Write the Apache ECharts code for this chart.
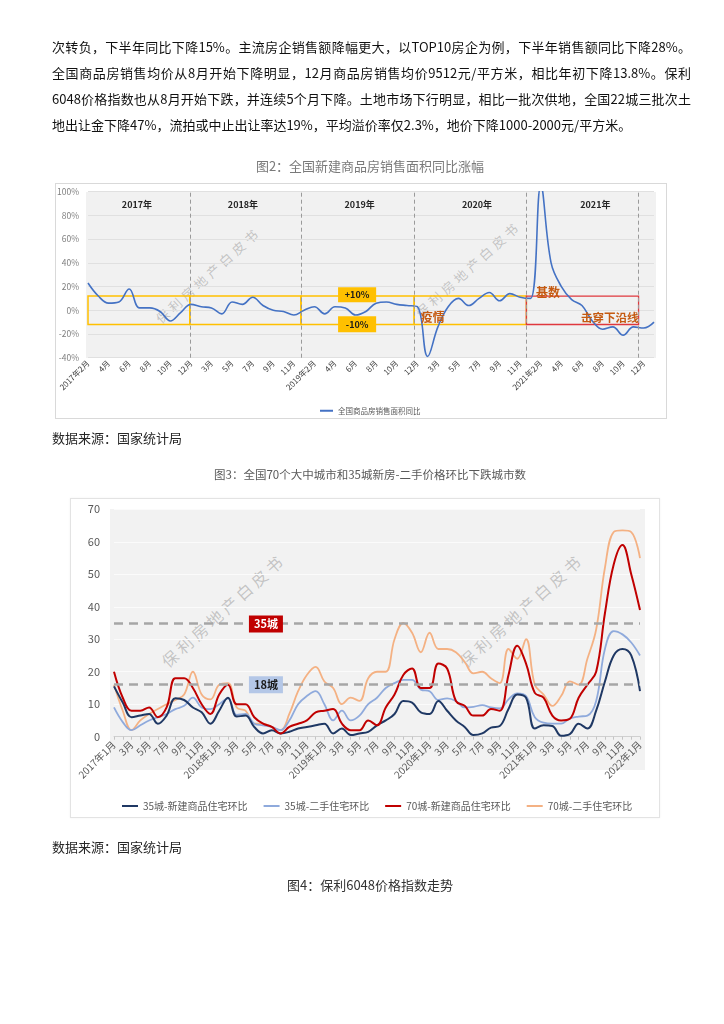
<!DOCTYPE html>
<html>
<head>
<meta charset="utf-8">
<script src="https://cdn.jsdelivr.net/npm/echarts@6/dist/echarts.min.js"></script>
<style>
body{margin:0;background:#fff;}
#page{position:relative;width:724px;height:1024px;overflow:hidden;font-family:"Noto Sans CJK SC","Noto Sans",sans-serif;background:#fff;}
.ln{position:absolute;left:52px;width:639px;height:26px;line-height:26px;font-size:13px;color:#111;white-space:nowrap;z-index:3;}
.j{text-align:justify;text-align-last:justify;}
.cap{position:absolute;left:0;width:740px;text-align:center;z-index:3;white-space:nowrap;}
.src{position:absolute;left:52px;font-size:13px;color:#262626;z-index:3;}
.box{position:absolute;box-sizing:border-box;z-index:0;}
.bg{position:absolute;z-index:0;background:#f1f1f1;}
.wm{position:absolute;z-index:1;color:rgba(130,130,130,0.42);white-space:nowrap;transform:translate(-50%,-50%) rotate(-42deg);}
#chart{position:absolute;left:0;top:0;width:724px;height:1024px;z-index:2;}
</style>
</head>
<body>
<div id="page">
  <div class="ln j" style="top:34px;">次转负，下半年同比下降15%。主流房企销售额降幅更大，以TOP10房企为例，下半年销售额同比下降28%。</div>
  <div class="ln j" style="top:60px;">全国商品房销售均价从8月开始下降明显，12月商品房销售均价9512元/平方米，相比年初下降13.8%。保利</div>
  <div class="ln j" style="top:86px;">6048价格指数也从8月开始下跌，并连续5个月下降。土地市场下行明显，相比一批次供地，全国22城三批次土</div>
  <div class="ln" style="top:112px;">地出让金下降47%，流拍或中止出让率达19%，平均溢价率仅2.3%，地价下降1000-2000元/平方米。</div>

  <div class="cap" style="top:156px;font-size:13px;color:#7a7a7a;">图2：全国新建商品房销售面积同比涨幅</div>

  <div class="box" style="left:55px;top:183px;width:612px;height:236px;border:1px solid #d9d9d9;"></div>
  <div class="bg" style="left:86px;top:191.7px;width:570px;height:166px;"></div>
  <div class="wm" style="left:208px;top:275px;font-size:13px;letter-spacing:4px;">保利房地产白皮书</div>
  <div class="wm" style="left:468px;top:269px;font-size:13px;letter-spacing:4px;">保利房地产白皮书</div>

  <div class="src" style="top:428px;">数据来源：国家统计局</div>

  <div class="cap" style="top:466px;font-size:11.5px;color:#595959;">图3：全国70个大中城市和35城新房-二手价格环比下跌城市数</div>

  <div class="box" style="left:70px;top:498px;width:590px;height:320px;border:1px solid #e3e3e3;box-shadow:0 0 2px rgba(0,0,0,0.06);"></div>
  <div class="bg" style="left:110px;top:509px;width:535px;height:261px;background:#f2f2f2;"></div>
  <div class="wm" style="left:223px;top:610px;font-size:16px;letter-spacing:4px;">保利房地产白皮书</div>
  <div class="wm" style="left:521px;top:610px;font-size:16px;letter-spacing:4px;">保利房地产白皮书</div>

  <div class="src" style="top:837px;">数据来源：国家统计局</div>

  <div class="cap" style="top:875px;font-size:13px;color:#333;">图4：保利6048价格指数走势</div>

  <div id="chart"></div>
</div>
<script>
// ---------- Figure 2 data ----------
const months1 = ['2017年2月','3月','4月','5月','6月','7月','8月','9月','10月','11月','12月',
  '2018年2月','3月','4月','5月','6月','7月','8月','9月','10月','11月','12月',
  '2019年2月','3月','4月','5月','6月','7月','8月','9月','10月','11月','12月',
  '2020年2月','3月','4月','5月','6月','7月','8月','9月','10月','11月','12月',
  '2021年2月','3月','4月','5月','6月','7月','8月','9月','10月','11月','12月',
  '2022年2月'];
const areaYoY = [23, 12, 6, 7, 18, 2, 2, -1, -9, -2, 5,
  3, 2, -3, 7, 5, 11, 4, 0, -1, -4, 0,
  3, -3, 3, 2, -4, -1, 6, 7, 5, 4, 3,
  -39, -14, 3, 10, 4, 10, 15, 8, 14, 11, 10,
  105, 40, 20, 9, 4, -9, -16, -14, -21, -14, -15,
  -10];
const labelledPoints = {4:'right', 8:'bottom', 16:'top', 33:'right', 34:'right', 39:'top', 49:'bottom', 50:'bottom'};
const yearNames = ['2017年','2018年','2019年','2020年','2021年'];
const yearBounds = [0, 9.9, 20.7, 31.7, 42.6, 53.5];
const yTicks1 = {min:-40, max:100, step:20};

// ---------- Figure 3 data ----------
const months2 = ['2017年1月','2月','3月','4月','5月','6月','7月','8月','9月','10月','11月','12月',
  '2018年1月','2月','3月','4月','5月','6月','7月','8月','9月','10月','11月','12月',
  '2019年1月','2月','3月','4月','5月','6月','7月','8月','9月','10月','11月','12月',
  '2020年1月','2月','3月','4月','5月','6月','7月','8月','9月','10月','11月','12月',
  '2021年1月','2月','3月','4月','5月','6月','7月','8月','9月','10月','11月','12月',
  '2022年1月'];
const new35 = [15.5, 10.5, 6, 6.5, 7, 4, 6.5, 11.8, 11.3, 9, 7.5, 4,
  8, 12, 6.2, 6.5, 3, 1, 2, 1, 1.5, 2.5, 3, 3.5,
  4, 1, 2.5, 0.5, 1, 1.5, 3.5, 5, 7, 11, 10.5, 7.5,
  7, 11, 8, 5, 3, 0.5, 1, 2.8, 3.3, 8.5, 13, 12,
  2.5, 3.5, 3.3, 0.3, 0.8, 4, 2.5, 8, 17, 25, 27, 25,
  14];
const used35 = [9, 4.5, 2, 3.5, 5, 6, 7, 8.5, 9.5, 12, 9, 8.5,
  10, 11.8, 6.7, 7, 4, 3.5, 3, 2, 5, 10, 12.5, 14,
  10, 5, 8, 5, 6.5, 10, 12, 15, 16.5, 17.5, 17.5, 14.5,
  14, 11.3, 11.8, 11, 9, 9.2, 9.7, 9, 8.7, 11.5, 13.3, 12.5,
  6, 4.3, 4, 4, 5.6, 6.2, 6.5, 11, 27, 32.5, 31.5, 29,
  25];
const new70 = [20, 12, 8, 8, 9, 6, 9, 18, 18, 15, 10, 7,
  13, 16, 10, 10, 6, 4, 3, 1, 3, 4, 5, 7.5,
  8, 8.5, 4, 2, 2, 5, 3.5, 9, 13, 19, 21, 15,
  15, 22.5, 21, 11, 9.5, 6.5, 6.5, 8.5, 8, 19, 28, 22.5,
  13.5, 12, 6.5, 5, 5.5, 12, 16, 20, 38, 53, 59, 50,
  39];
const used70 = [16, 8, 2, 5, 7, 8.5, 10, 11.3, 13, 20, 13, 11.5,
  16, 16.5, 9, 8, 4, 4, 3, 2, 7, 14, 19, 21.5,
  17, 15, 10, 12, 11, 18, 20, 20, 30, 35, 32, 26,
  32, 27, 27, 26, 23, 19.5, 20, 18, 16.5, 27, 24, 30,
  16, 13, 9.5, 12.5, 17, 16, 24, 33, 52, 63, 63.5, 63,
  55];
const seriesNames2 = ['35城-新建商品住宅环比','35城-二手住宅环比','70城-新建商品住宅环比','70城-二手住宅环比'];
const refLines = [35, 16];
const refLabels = ['35城', '18城'];

const FONT = '"Noto Sans CJK SC","Noto Sans",sans-serif';

const labelOffsets = {4:[0,0], 8:[0,0], 16:[6,0], 33:[0,0], 34:[0,0], 39:[0,0], 49:[-5,0], 50:[5,0]};
const labelDist = {4:8, 8:2, 16:3, 33:9, 34:3, 39:1, 49:2, 50:2};
const data1 = areaYoY.map((v, i) => {
  if (labelledPoints[i]) {
    return {value: v, label: {show: true, position: labelledPoints[i], distance: labelDist[i],
      offset: labelOffsets[i], formatter: '{c}%', color: '#7f7f7f', fontSize: 8}};
  }
  return v;
});

const boxes = [];
for (let k = 0; k < 4; k++) {
  boxes.push([
    {coord: [yearBounds[k], -12], itemStyle: {color: 'rgba(0,0,0,0)', borderColor: '#FFC000', borderWidth: 1.5}},
    {coord: [yearBounds[k + 1], 12]}
  ]);
}
boxes.push([
  {coord: [yearBounds[4], -12], itemStyle: {color: 'rgba(0,0,0,0)', borderColor: '#E0383E', borderWidth: 1.3}},
  {coord: [yearBounds[5], 12]}
]);
boxes.push([
  {coord: [24.3, 19.4], itemStyle: {color: '#FFC000', borderWidth: 0},
   label: {show: true, position: 'inside', formatter: '+10%', color: '#1a1a1a', fontWeight: 'bold', fontSize: 9}},
  {coord: [28.0, 6.8]}
]);
boxes.push([
  {coord: [24.3, -5.1], itemStyle: {color: '#FFC000', borderWidth: 0},
   label: {show: true, position: 'inside', formatter: '-10%', color: '#1a1a1a', fontWeight: 'bold', fontSize: 9}},
  {coord: [28.0, -18.6]}
]);

const yearLabelPos = [4.76, 15.06, 26.4, 37.8, 49.3];
const notePoints = yearNames.map((n, k) => ({
  name: n, coord: [yearLabelPos[k], 89.5],
  label: {color: '#262626', fontWeight: 'bold', fontSize: 9}
}));
notePoints.push({name: '疫情', coord: [33.5, -5.9], label: {color: '#C55A11', fontWeight: 'bold', fontSize: 12}});
notePoints.push({name: '基数', coord: [44.7, 15.2], label: {color: '#C55A11', fontWeight: 'bold', fontSize: 12}});
notePoints.push({name: '击穿下沿线', coord: [50.7, -5.9], label: {color: '#C55A11', fontWeight: 'bold', fontSize: 11.5}});

const colors2 = ['#1F3864', '#8FAADC', '#C00000', '#F4B183'];
const widths2 = [2, 1.8, 2, 1.8];
const values2 = [new35, used35, new70, used70];
const drawOrder = [3, 1, 0, 2];

const series = [
  {
    name: '全国商品房销售面积同比', type: 'line', xAxisIndex: 0, yAxisIndex: 0,
    data: data1, smooth: 0.4, showSymbol: false, symbol: 'none',
    lineStyle: {color: '#4472C4', width: 1.6}, itemStyle: {color: '#4472C4'}, z: 3
  },
  {
    name: 'annot1', type: 'line', xAxisIndex: 1, yAxisIndex: 0, data: [], z: 4,
    markLine: {silent: true, symbol: ['none', 'none'], label: {show: false},
      lineStyle: {color: '#9a9a9a', type: [4, 3], width: 1},
      data: yearBounds.slice(1).map(b => ({xAxis: b}))},
    markArea: {silent: true, label: {show: false}, data: boxes},
    markPoint: {silent: true, symbol: 'rect', symbolSize: 1, itemStyle: {color: 'rgba(0,0,0,0)'},
      label: {show: true, position: 'inside', formatter: '{b}'}, data: notePoints}
  }
];
drawOrder.forEach(k => {
  series.push({
    name: seriesNames2[k], type: 'line', xAxisIndex: 2, yAxisIndex: 1,
    data: values2[k], smooth: 0.4, showSymbol: false, symbol: 'none',
    lineStyle: {color: colors2[k], width: widths2[k]}, itemStyle: {color: colors2[k]}, z: 3
  });
});
series.push({
  name: 'annot2', type: 'line', xAxisIndex: 3, yAxisIndex: 1, data: [], z: 2,
  markLine: {silent: true, symbol: ['none', 'none'], label: {show: false},
    lineStyle: {color: '#a6a6a6', type: [9, 6], width: 2.6},
    data: refLines.map(v => ({yAxis: v}))},
  markPoint: {silent: true, symbol: 'rect', symbolSize: [34, 17],
    data: [
      {name: refLabels[0], coord: [17.33, 34.7], itemStyle: {color: '#C00000'},
       label: {show: true, position: 'inside', formatter: '{b}', color: '#ffffff', fontWeight: 'bold', fontSize: 11}},
      {name: refLabels[1], coord: [17.33, 16], itemStyle: {color: '#B4C7E7'},
       label: {show: true, position: 'inside', formatter: '{b}', color: '#1a1a1a', fontWeight: 'bold', fontSize: 11}}
    ]}
});

const chart = echarts.init(document.getElementById('chart'));
chart.setOption({
  animation: false,
  textStyle: {fontFamily: FONT},
  grid: [
    {left: 88, top: 191.7, width: 566, height: 166},
    {left: 114, top: 509.3, width: 526, height: 227.4}
  ],
  xAxis: [
    {type: 'category', gridIndex: 0, data: months1, boundaryGap: false,
     axisLine: {show: false}, axisTick: {show: false}, splitLine: {show: false},
     axisLabel: {interval: 1, rotate: 45, fontSize: 8, color: '#404040', margin: 4}},
    {type: 'value', gridIndex: 0, min: 0, max: 55, show: false},
    {type: 'category', gridIndex: 1, data: months2, boundaryGap: false,
     axisLine: {show: true, lineStyle: {color: '#d0d0d0'}},
     axisTick: {show: true, interval: 0, length: 3, lineStyle: {color: '#c4c4c4'}},
     axisLabel: {interval: 1, rotate: 45, fontSize: 10, color: '#595959', margin: 6}},
    {type: 'value', gridIndex: 1, min: 0, max: 60, show: false}
  ],
  yAxis: [
    {type: 'value', gridIndex: 0, min: yTicks1.min, max: yTicks1.max, interval: yTicks1.step,
     axisLine: {show: false}, axisTick: {show: false},
     axisLabel: {formatter: '{value}%', fontSize: 8.5, color: '#7f7f7f', margin: 9},
     splitLine: {lineStyle: {color: '#e0e0e0'}}},
    {type: 'value', gridIndex: 1, min: 0, max: 70, interval: 10,
     axisLine: {show: false}, axisTick: {show: false},
     axisLabel: {fontSize: 11, color: '#595959', margin: 14},
     splitLine: {lineStyle: {color: '#fbfbfb'}}}
  ],
  legend: [
    {data: ['全国商品房销售面积同比'], left: 315, top: 402, icon: 'rect', itemWidth: 13, itemHeight: 2,
     textStyle: {fontSize: 7.5, color: '#595959'}},
    {data: seriesNames2, left: 117, top: 796, icon: 'rect', itemWidth: 16, itemHeight: 2, itemGap: 16,
     textStyle: {fontSize: 10, color: '#595959'}}
  ],
  series: series
});
</script>
</body>
</html>
